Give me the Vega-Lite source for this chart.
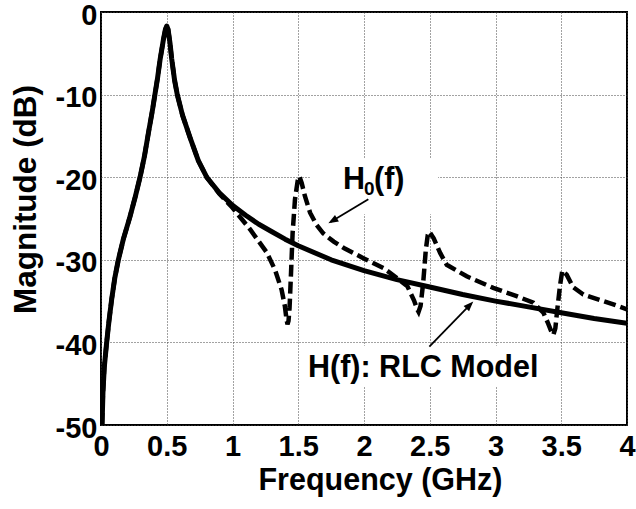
{
  "$schema": "https://vega.github.io/schema/vega-lite/v6.json",
  "width": 526,
  "height": 413,
  "autosize": {"type": "none"},
  "padding": {"left": 101, "top": 12, "right": 9, "bottom": 84},
  "background": "white",
  "config": {
    "view": {"stroke": "black", "strokeWidth": 2},
    "axis": {
      "labelFont": "Liberation Sans",
      "labelFontWeight": "bold",
      "labelFontSize": 29,
      "labelColor": "black",
      "titleFont": "Liberation Sans",
      "titleFontWeight": "bold",
      "titleFontSize": 30.5,
      "titleColor": "black",
      "domain": false,
      "ticks": false,
      "tickSize": 0,
      "grid": true,
      "gridColor": "#444",
      "gridDash": [1, 2],
      "gridWidth": 1,
      "gridOpacity": 1,
      "labelOverlap": false,
      "labelFlush": false
    }
  },
  "datasets": {
    "H": [
      {"f": 0.008, "db": -50}, {"f": 0.015, "db": -46}, {"f": 0.025, "db": -43}, {"f": 0.043, "db": -40},
      {"f": 0.06, "db": -37.5}, {"f": 0.081, "db": -34.8}, {"f": 0.105, "db": -32.2}, {"f": 0.132, "db": -30},
      {"f": 0.17, "db": -27.5}, {"f": 0.22, "db": -24.8}, {"f": 0.26, "db": -22.4}, {"f": 0.297, "db": -20},
      {"f": 0.33, "db": -17.5}, {"f": 0.36, "db": -14.7}, {"f": 0.39, "db": -12}, {"f": 0.41, "db": -10},
      {"f": 0.43, "db": -8}, {"f": 0.449, "db": -5.8}, {"f": 0.474, "db": -3.4}, {"f": 0.49, "db": -2.1},
      {"f": 0.5, "db": -1.7}, {"f": 0.51, "db": -2.1}, {"f": 0.525, "db": -3.8}, {"f": 0.537, "db": -5.6},
      {"f": 0.56, "db": -8.3}, {"f": 0.58, "db": -10}, {"f": 0.62, "db": -12.5}, {"f": 0.677, "db": -15.2},
      {"f": 0.74, "db": -18}, {"f": 0.804, "db": -20}, {"f": 0.9, "db": -21.9}, {"f": 1.0, "db": -23.4},
      {"f": 1.1, "db": -24.6}, {"f": 1.2, "db": -25.7}, {"f": 1.3, "db": -26.6}, {"f": 1.4, "db": -27.5},
      {"f": 1.5, "db": -28.3}, {"f": 1.75, "db": -30}, {"f": 2.0, "db": -31.3}, {"f": 2.25, "db": -32.4},
      {"f": 2.5, "db": -33.3}, {"f": 2.75, "db": -34.2}, {"f": 3.0, "db": -35.0}, {"f": 3.25, "db": -35.7},
      {"f": 3.5, "db": -36.4}, {"f": 3.75, "db": -37.1}, {"f": 4.0, "db": -37.7}
    ],
    "H0": [
      {"f": 0.008, "db": -50}, {"f": 0.015, "db": -46}, {"f": 0.025, "db": -43}, {"f": 0.043, "db": -40},
      {"f": 0.06, "db": -37.5}, {"f": 0.081, "db": -34.8}, {"f": 0.105, "db": -32.2}, {"f": 0.132, "db": -30},
      {"f": 0.17, "db": -27.5}, {"f": 0.22, "db": -24.8}, {"f": 0.26, "db": -22.4}, {"f": 0.297, "db": -20},
      {"f": 0.33, "db": -17.5}, {"f": 0.36, "db": -14.7}, {"f": 0.39, "db": -12}, {"f": 0.41, "db": -10},
      {"f": 0.43, "db": -8}, {"f": 0.449, "db": -5.8}, {"f": 0.474, "db": -3.4}, {"f": 0.49, "db": -2.1},
      {"f": 0.5, "db": -1.7}, {"f": 0.51, "db": -2.1}, {"f": 0.525, "db": -3.8}, {"f": 0.537, "db": -5.6},
      {"f": 0.56, "db": -8.3}, {"f": 0.58, "db": -10}, {"f": 0.62, "db": -12.5}, {"f": 0.677, "db": -15.2},
      {"f": 0.74, "db": -18}, {"f": 0.804, "db": -20}, {"f": 0.9, "db": -22.0}, {"f": 1.0, "db": -23.7},
      {"f": 1.133, "db": -26.3}, {"f": 1.26, "db": -29.1}, {"f": 1.323, "db": -31.2}, {"f": 1.373, "db": -33.6},
      {"f": 1.398, "db": -35.6}, {"f": 1.41, "db": -37.1}, {"f": 1.418, "db": -37.8}, {"f": 1.426, "db": -37.4},
      {"f": 1.434, "db": -35.8}, {"f": 1.444, "db": -32}, {"f": 1.457, "db": -26.8}, {"f": 1.475, "db": -22.7},
      {"f": 1.496, "db": -20.4}, {"f": 1.508, "db": -19.9}, {"f": 1.526, "db": -20.7}, {"f": 1.551, "db": -22.3},
      {"f": 1.59, "db": -24.3}, {"f": 1.64, "db": -25.8}, {"f": 1.69, "db": -26.8}, {"f": 1.77, "db": -27.8},
      {"f": 1.85, "db": -28.6}, {"f": 1.995, "db": -29.8}, {"f": 2.148, "db": -31.0}, {"f": 2.25, "db": -32.2},
      {"f": 2.33, "db": -33.2}, {"f": 2.38, "db": -34.9}, {"f": 2.405, "db": -36.0}, {"f": 2.415, "db": -36.3},
      {"f": 2.43, "db": -35.6}, {"f": 2.45, "db": -32.8}, {"f": 2.47, "db": -28.8}, {"f": 2.485, "db": -27.0},
      {"f": 2.497, "db": -26.6}, {"f": 2.53, "db": -27.4}, {"f": 2.58, "db": -29.2}, {"f": 2.629, "db": -30.6},
      {"f": 2.781, "db": -32.0}, {"f": 2.983, "db": -33.4}, {"f": 3.161, "db": -34.4}, {"f": 3.288, "db": -35.2},
      {"f": 3.364, "db": -36.4}, {"f": 3.40, "db": -37.7}, {"f": 3.43, "db": -38.9}, {"f": 3.44, "db": -39.1},
      {"f": 3.455, "db": -38.3}, {"f": 3.47, "db": -36.0}, {"f": 3.49, "db": -33.2}, {"f": 3.508, "db": -31.3},
      {"f": 3.541, "db": -31.8}, {"f": 3.59, "db": -33.3}, {"f": 3.668, "db": -34.2}, {"f": 3.744, "db": -34.6},
      {"f": 3.896, "db": -35.4}, {"f": 4.0, "db": -36.0}
    ]
  },
  "encoding": {
    "x": {
      "field": "f", "type": "quantitative",
      "scale": {"domain": [0, 4], "nice": false, "zero": false},
      "axis": {
        "values": [0, 0.5, 1, 1.5, 2, 2.5, 3, 3.5, 4],
        "labelExpr": "'' + datum.value",
        "labelPadding": 7,
        "title": "Frequency (GHz)",
        "titleX": 279,
        "titleY": 64,
        "titleBaseline": "alphabetic",
        "titleAnchor": "middle"
      }
    },
    "y": {
      "field": "db", "type": "quantitative",
      "scale": {"domain": [-50, 0], "nice": false, "zero": false},
      "axis": {
        "values": [-50, -40, -30, -20, -10, 0],
        "labelExpr": "'' + datum.value",
        "labelPadding": 4,
        "labelOffset": 3,
        "title": "Magnitude (dB)",
        "titleFontSize": 31.5,
        "titleX": -66,
        "titleY": 187,
        "titleBaseline": "alphabetic",
        "titleAnchor": "middle"
      }
    }
  },
  "layer": [
    {
      "data": {"values": [
        {"f": 1.589, "f2": 2.563, "db": -17.7, "db2": -24.5},
        {"f": 1.536, "f2": 3.338, "db": -40.4, "db2": -45.4}
      ]},
      "mark": {"type": "rect", "color": "white", "opacity": 1},
      "encoding": {"x2": {"field": "f2"}, "y2": {"field": "db2"}}
    },
    {
      "data": {"name": "H0"},
      "mark": {"type": "line", "color": "black", "strokeWidth": 4.5, "strokeDash": [12, 5], "strokeCap": "butt", "clip": true}
    },
    {
      "data": {"name": "H"},
      "mark": {"type": "line", "color": "black", "strokeWidth": 5, "strokeJoin": "round", "clip": true}
    },
    {
      "data": {"values": [
        {"f": 2.033, "db": -22.68, "f2": 1.745, "db2": -25.43},
        {"f": 2.497, "db": -40.5, "f2": 2.815, "db2": -35.3}
      ]},
      "mark": {"type": "rule", "color": "black", "strokeWidth": 1.8},
      "encoding": {"x2": {"field": "f2"}, "y2": {"field": "db2"}}
    },
    {
      "data": {"values": [{"f": 1.729, "db": -25.58}]},
      "mark": {"type": "point", "shape": "M0,0L-0.38,1L0.38,1Z", "filled": true, "color": "black", "opacity": 1, "size": 400, "angle": 239}
    },
    {
      "data": {"values": [{"f": 2.831, "db": -35.05}]},
      "mark": {"type": "point", "shape": "M0,0L-0.38,1L0.38,1Z", "filled": true, "color": "black", "opacity": 1, "size": 400, "angle": 44}
    },
    {
      "data": {"values": [{"f": 1.574, "db": -44.15, "label": "H(f): RLC Model"}, {"f": 1.84, "db": -21.4, "label": "H"}, {"f": 2.076, "db": -21.4, "label": "(f)"}]},
      "mark": {"type": "text", "align": "left", "baseline": "alphabetic", "font": "Liberation Sans", "fontWeight": "bold", "fontSize": 30.5, "color": "black"},
      "encoding": {"text": {"field": "label"}}
    },
    {
      "data": {"values": [{"f": 2.0, "db": -22.2, "label": "0"}]},
      "mark": {"type": "text", "align": "left", "baseline": "alphabetic", "font": "Liberation Sans", "fontWeight": "bold", "fontSize": 19, "color": "black"},
      "encoding": {"text": {"field": "label"}}
    }
  ]
}
